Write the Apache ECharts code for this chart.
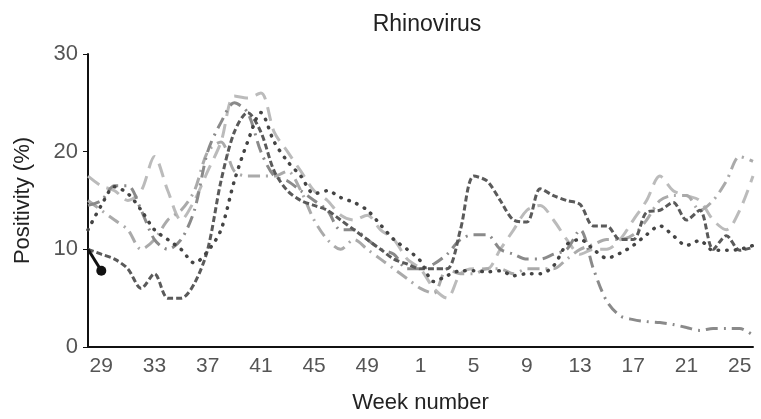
<!DOCTYPE html>
<html>
<head>
<meta charset="utf-8">
<script src="https://cdn.jsdelivr.net/npm/echarts@6/dist/echarts.min.js"></script>
<style>html,body{margin:0;padding:0;background:#fff}#chart{width:761px;height:419px}</style>
</head>
<body>
<div id="chart"></div>
<script>
// weeks 28..52 then 1..26
var weeks = [];
for (var w = 28; w <= 52; w++) weeks.push(String(w));
for (var w2 = 1; w2 <= 26; w2++) weeks.push(String(w2));

var seasonA = [10, 9.5, 9, 8, 6, 7.5, 5, 5, 6.5, 10, 17, 22, 24, 22, 18, 16, 15, 14.5, 14, 13, 12, 11, 10, 9, 8.5,
  8, 8, 8, 12, 17.5, 17, 15, 13, 12.8, 16.2, 15.5, 15, 14.6, 12.4, 12.4, 11, 11, 13.8, 14, 14.8, 13, 14, 10, 11.4, 9.9, 10.2];
var seasonB = [12, 14.5, 16.4, 15.7, 14, 12, 11, 10, 8.6, 9.8, 12, 17, 21, 24, 21, 19, 17.5, 15.7, 16, 15.3, 14.8, 14, 12.5, 11, 10,
  8.8, 6.7, 7.3, 7.8, 7.8, 7.7, 7.8, 7.3, 7.5, 7.5, 8.3, 10.5, 11, 10, 9.1, 9.6, 10.4, 11.5, 12.4, 11.4, 10.4, 10.9, 9.9, 9.9, 10, 10.4];
var seasonC = [17.5, 16.5, 16, 15, 16, 19.5, 16, 13, 15, 18, 21, 25.7, 25.5, 26, 22, 20, 18, 16, 15, 13.5, 13, 13.5, 12, 11, 9,
  8, 6, 5, 7.5, 8, 8, 10, 12, 14, 14.5, 13, 11, 9.5, 10, 10, 11, 13, 15, 17.5, 16, 15.5, 15, 13, 12, 14, 17.5];
var seasonD = [14.5, 15, 16.5, 16.5, 14, 11, 10, 11, 14, 20, 23, 25, 24, 20, 17.5, 17, 16, 15, 14, 12, 12, 11, 10, 9.5, 8,
  8, 8.5, 9.5, 11, 11.5, 11.5, 10, 9.5, 9, 9, 9.5, 10, 12, 8, 4.7, 3.2, 2.8, 2.6, 2.5, 2.3, 2, 1.7, 1.9, 1.9, 1.9, 1.2];
var seasonE = [15, 14, 13, 12, 10, 11, 13, 14, 16, 20, 21, 18, 17.5, 17.5, 17.5, 18, 16, 13, 11, 10, 11, 10, 9, 8, 7,
  6, 5.5, 8, 7.5, 7.5, 8, 8, 7.5, 8, 8, 8, 9, 10, 10.5, 11, 11, 11.5, 13, 15, 15.5, 15.5, 14, 15, 17, 19.5, 19];
var current = [10, 7.8];

function line(data, color, type, width, cap) {
  return {
    type: 'line', data: data, symbol: 'none', smooth: 0.3,
    lineStyle: {color: color, type: type, width: width || 3, cap: cap || 'butt'}
  };
}

var font = 'Liberation Sans';
var chart = echarts.init(document.getElementById('chart'));
chart.setOption({
  animation: false,
  title: {text: 'Rhinovirus', left: 422, top: 8, textAlign: 'center',
    textStyle: {fontFamily: font, fontSize: 23, fontWeight: 'normal', color: '#222'}},
  grid: {left: 88, right: 8, top: 54, bottom: 66},
  xAxis: {
    type: 'category', data: weeks, boundaryGap: false,
    name: 'Week number', nameLocation: 'middle', nameGap: 45,
    nameTextStyle: {fontFamily: font, fontSize: 22, color: '#222'},
    axisLine: {lineStyle: {color: '#111', width: 2}},
    axisTick: {show: false},
    axisLabel: {interval: function (i) { return i % 4 === 1; }, fontFamily: font, fontSize: 21, color: '#555', margin: 9}
  },
  yAxis: {
    type: 'value', min: 0, max: 30, interval: 10,
    name: 'Positivity (%)', nameLocation: 'middle', nameGap: 54,
    nameTextStyle: {fontFamily: font, fontSize: 22, color: '#222'},
    axisLine: {show: true, lineStyle: {color: '#111', width: 2}},
    axisTick: {show: true, length: 5, lineStyle: {color: '#111'}},
    splitLine: {show: false},
    axisLabel: {fontFamily: font, fontSize: 22, color: '#555', margin: 10}
  },
  series: [
    line(seasonC, '#bbbbbb', [14, 8]),
    line(seasonE, '#aaaaaa', [12, 6, 2, 6]),
    line(seasonD, '#8a8a8a', [12, 6, 2, 6]),
    line(seasonA, '#5a5a5a', [6, 3]),
    line(seasonB, '#444444', [0.5, 8], 3.5, 'round'),
    {type: 'line', data: current, symbol: 'circle', symbolSize: 10,
      lineStyle: {color: '#111', width: 3}, itemStyle: {color: '#111'}}
  ]
});
</script>
</body>
</html>
